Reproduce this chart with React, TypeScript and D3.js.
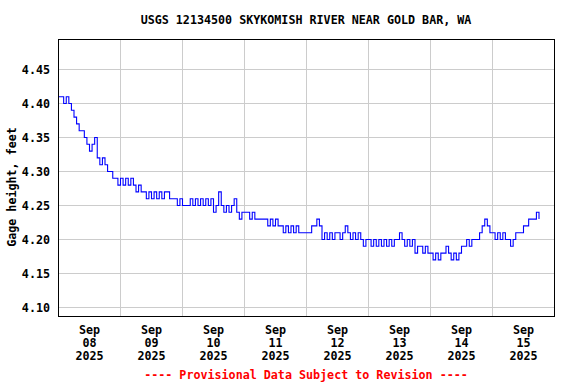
import React from "react";
import * as d3 from "d3";

const title = "USGS 12134500 SKYKOMISH RIVER NEAR GOLD BAR, WA";
const yLabel = "Gage height, feet";
const footnote = "---- Provisional Data Subject to Revision ----";
const yTicks = [4.1, 4.15, 4.2, 4.25, 4.3, 4.35, 4.4, 4.45];
const dayLabels = ["08", "09", "10", "11", "12", "13", "14", "15"];
const monthLabel = "Sep";
const yearLabel = "2025";
const seriesStart = Date.UTC(2025, 8, 8, 0, 0);
const stepMs = 3600 * 1000;

// Hourly gage height readings (feet), from Sep 08 00:00
const gageHeight = [
  // Sep 08
  4.41, 4.41, 4.40, 4.41, 4.40, 4.39, 4.38, 4.37, 4.36, 4.36, 4.35, 4.34,
  4.33, 4.34, 4.35, 4.32, 4.31, 4.32, 4.31, 4.30, 4.30, 4.29, 4.29, 4.28,
  // Sep 09
  4.29, 4.28, 4.29, 4.28, 4.29, 4.28, 4.27, 4.28, 4.27, 4.27, 4.26, 4.27,
  4.26, 4.27, 4.26, 4.27, 4.26, 4.27, 4.27, 4.26, 4.26, 4.26, 4.25, 4.26,
  // Sep 10
  4.25, 4.25, 4.25, 4.26, 4.25, 4.26, 4.25, 4.26, 4.25, 4.26, 4.25, 4.26,
  4.24, 4.25, 4.27, 4.25, 4.24, 4.25, 4.24, 4.25, 4.26, 4.24, 4.23, 4.24,
  // Sep 11
  4.24, 4.24, 4.23, 4.24, 4.23, 4.23, 4.23, 4.23, 4.23, 4.22, 4.23, 4.22,
  4.23, 4.22, 4.22, 4.21, 4.22, 4.21, 4.22, 4.21, 4.22, 4.21, 4.21, 4.21,
  // Sep 12
  4.21, 4.21, 4.22, 4.22, 4.23, 4.22, 4.20, 4.21, 4.20, 4.21, 4.20, 4.21,
  4.21, 4.20, 4.21, 4.22, 4.21, 4.20, 4.21, 4.20, 4.21, 4.20, 4.19, 4.20,
  // Sep 13
  4.20, 4.19, 4.20, 4.19, 4.20, 4.19, 4.20, 4.19, 4.20, 4.19, 4.20, 4.20,
  4.21, 4.20, 4.19, 4.20, 4.19, 4.20, 4.18, 4.19, 4.19, 4.18, 4.19, 4.18,
  // Sep 14
  4.18, 4.17, 4.18, 4.17, 4.18, 4.18, 4.19, 4.18, 4.17, 4.18, 4.17, 4.18,
  4.19, 4.19, 4.20, 4.19, 4.20, 4.20, 4.20, 4.21, 4.22, 4.23, 4.22, 4.21,
  // Sep 15
  4.21, 4.20, 4.21, 4.20, 4.21, 4.20, 4.20, 4.19, 4.20, 4.21, 4.21, 4.21,
  4.22, 4.22, 4.23, 4.23, 4.23, 4.24, 4.23,
];

const W = 576;
const H = 384;
const FONT = "'DejaVu Sans Mono', 'Liberation Mono', monospace";

export default function App() {
  const plotL = 58.5, plotR = 554.5, plotT = 39.5, plotB = 316.5;
  const x = d3
    .scaleUtc()
    .domain([new Date(Date.UTC(2025, 8, 8)), new Date(Date.UTC(2025, 8, 16))])
    .range([plotL, plotR]);
  const y = d3.scaleLinear().domain([4.1, 4.45]).range([307.5, 69.5]);

  const data = gageHeight.map((v, i) => ({ t: new Date(seriesStart + i * stepMs), v }));
  const line = d3
    .line<{ t: Date; v: number }>()
    .x((d) => x(d.t))
    .y((d) => y(d.v))
    .curve(d3.curveStepAfter);

  const days = d3.utcDay.range(new Date(Date.UTC(2025, 8, 8)), new Date(Date.UTC(2025, 8, 16)));

  return (
    <svg
      width={W}
      height={H}
      style={{ position: "absolute", left: 0, top: 0, background: "#fff" }}
      fontFamily={FONT}
      fontWeight="bold"
      fontSize={11.7}
    >
      <rect x={0} y={0} width={W} height={H} fill="#fff" />
      <defs>
        <clipPath id="plotclip">
          <rect x={plotL} y={plotT} width={plotR - plotL} height={plotB - plotT} />
        </clipPath>
      </defs>
      {yTicks.map((t) => (
        <line key={"gy" + t} x1={plotL} x2={plotR} y1={y(t)} y2={y(t)} stroke="#cccccc" strokeWidth={1} />
      ))}
      {days.map((d, i) => (
        <line key={"gx" + i} x1={x(d)} x2={x(d)} y1={plotT} y2={plotB} stroke="#cccccc" strokeWidth={1} />
      ))}
      <path d={line(data) || ""} fill="none" stroke="#0000ff" strokeWidth={1.1} clipPath="url(#plotclip)" />
      <rect x={plotL} y={plotT} width={plotR - plotL} height={plotB - plotT} fill="none" stroke="#000" strokeWidth={1} />
      {yTicks.map((t) => (
        <text key={"ty" + t} x={50} y={y(t) + 4} textAnchor="end" fill="#000">
          {t.toFixed(2)}
        </text>
      ))}
      {days.map((d, i) => {
        const cx = x(new Date(d.getTime() + 12 * 3600 * 1000));
        return (
          <g key={"tx" + i} textAnchor="middle" fill="#000">
            <text x={cx} y={334}>{monthLabel}</text>
            <text x={cx} y={347}>{dayLabels[i]}</text>
            <text x={cx} y={360}>{yearLabel}</text>
          </g>
        );
      })}
      <text x={306} y={24} textAnchor="middle" fill="#000">{title}</text>
      <text x={0} y={0} transform={`translate(16,187) rotate(-90)`} textAnchor="middle" fill="#000">
        {yLabel}
      </text>
      <text x={306} y={379} textAnchor="middle" fill="#ff0000">{footnote}</text>
    </svg>
  );
}
